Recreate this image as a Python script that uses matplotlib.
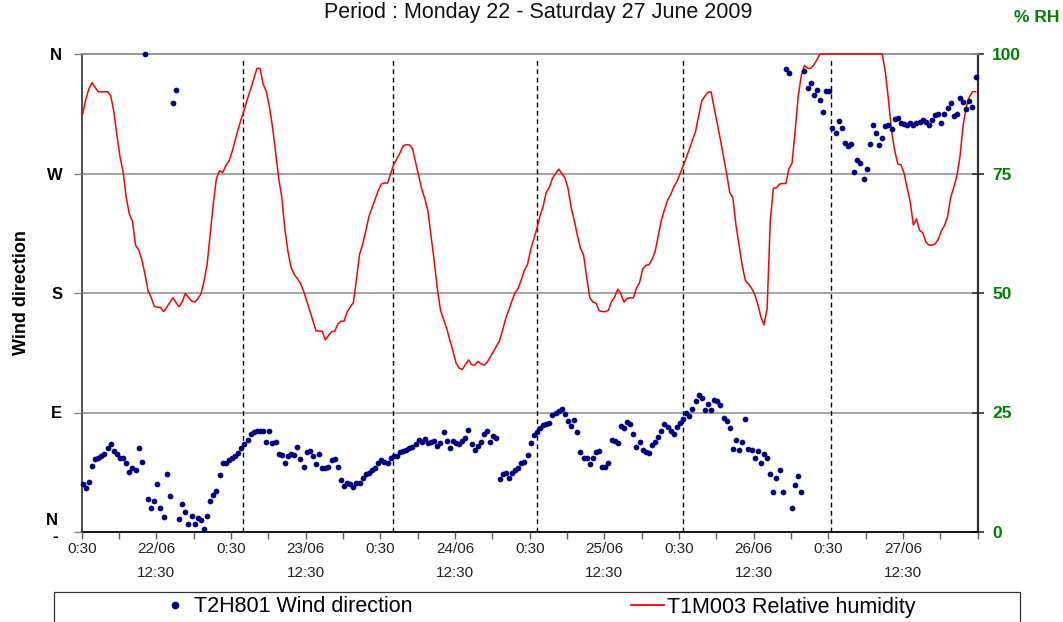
import matplotlib
matplotlib.use("Agg")
import matplotlib.pyplot as plt
from matplotlib.lines import Line2D
from matplotlib.patches import Rectangle
import numpy as np

plt.rcParams['font.family'] = ['Liberation Sans', 'DejaVu Sans']

# ---- data (half-hourly readings, 22/06 0:40 -> 27/06 24:10) ----
wind_dir = [
    36, 33, 38, 50, 55, 55.5, 57, 59, 63.5, 66, 61, 59, 55.5, 56, 52, 45, 48, 47, 63, 53,
    360, 25, 18, 23, 36, 18, 11, 44, 27, 323, 333, 9.5, 21, 15, 6, 12, 6, 10.5, 9, 2,
    12, 23.5, 28, 31, 43, 52, 52, 54, 56, 57.5, 59.5, 63.5, 66, 69, 74, 75, 76, 76, 76, 68,
    76, 67, 67.5, 59, 58, 52, 57.5, 59, 58, 64, 55, 49, 60, 61, 57, 51, 58.5, 48, 48.5, 49,
    54, 55, 49, 39, 35, 37, 36, 34, 37, 37, 41, 44, 44.5, 47, 48, 52, 54, 53, 52, 55.5,
    57, 57, 60, 61, 62, 63, 64, 66, 69, 68, 70, 67, 67.5, 68.5, 65, 67, 75.5, 68.5, 63.5, 68.5,
    67, 66, 68.5, 71, 77, 66, 62, 65, 68, 73.5, 76, 68, 72, 71, 40, 43.5, 44.5, 41, 44.5, 47,
    48.5, 52, 53, 58, 67, 73, 75.5, 78, 80.5, 81, 82, 88, 90, 91, 92.5, 89, 83.5, 80, 84, 75,
    60, 56, 55.5, 51, 56, 60, 61, 49, 49, 52, 69, 68.5, 67, 80, 78.5, 82.5, 81, 73.5, 64, 68,
    62, 60.5, 59.5, 65.5, 67.5, 71.5, 76, 81, 79, 76, 73.5, 79, 82, 85, 90, 87.5, 93, 99, 103, 101,
    92, 96.5, 92, 99.5, 99, 95.5, 86, 83.5, 78, 62.5, 69, 62, 68, 85, 62.5, 62, 55.5, 61, 52, 59,
    56, 44, 30, 41, 46.5, 30, 349, 345.5, 18, 35.5, 42.5, 30, 347, 334.5, 338, 329, 333, 325.5, 316, 332,
    332, 304, 300.5, 309.5, 304, 293, 291, 292, 271, 280.5, 278, 266, 273.5, 292, 306.5, 300.7, 291.5, 296.7, 305.7, 306.5,
    303.7, 311, 311.8, 308, 307, 306.7, 307.7, 306.5, 307.7, 308.5, 310, 309, 306.5, 310, 313.8, 315, 308, 315, 319, 322.8,
    313.5, 315, 327, 324, 318.5, 324.5, 320, 343,
]

rel_humidity = [
    87.5, 90.5, 92.7, 94, 93, 92.1, 92.1, 92.1, 92.1, 91.3, 88, 83, 78.5, 75.3, 70, 66.5, 65, 60, 59, 57,
    54, 50.5, 49.1, 47.2, 47, 47, 46.1, 47, 48, 49, 48, 47.1, 48.2, 49.9, 49.1, 48.3, 48.1, 48.8, 49.8, 52.4,
    56, 62.5, 68.8, 74, 75.6, 75.2, 76.6, 77.6, 79.5, 81.9, 84.3, 86.5, 88.5, 90.7, 92.7, 94.8, 97, 97, 93.7, 92.2,
    89, 84.8, 79.5, 74, 70, 63.3, 58.6, 55.3, 53.9, 53, 52, 50.4, 48.4, 46.3, 44.2, 42.1, 42, 42, 40.2, 41.1,
    41.9, 42, 43.5, 44.1, 44.1, 46, 47.1, 48, 52.8, 58.1, 60.2, 63, 66, 67.8, 69.6, 71.4, 72.8, 73, 73, 75,
    76.9, 78.1, 79.3, 80.8, 81, 81, 80.2, 77.3, 74.5, 71.7, 69.7, 67, 61.8, 56.6, 50.9, 46.4, 44.5, 42.6, 40.2, 37.9,
    35.4, 34.3, 34, 35, 36, 35, 34.9, 35.7, 35.2, 34.9, 35.5, 36.6, 37.7, 38.9, 40, 42.3, 44.7, 46.5, 48.4, 50.1,
    51, 52.8, 54.8, 56, 59.1, 61.3, 63.5, 66.1, 68.1, 71.1, 72.1, 74, 75, 75.9, 75, 74.1, 71.9, 67.9, 65.2, 62.1,
    59.4, 57.9, 53.3, 49, 48.1, 47.9, 46.3, 46.1, 46.1, 46.4, 48.2, 49.2, 50.8, 49.8, 48.1, 48.9, 49, 49, 51, 52.2,
    55, 55.8, 55.9, 57, 58.7, 62, 65.2, 67.4, 69.4, 70.6, 72.2, 73.3, 74.9, 76.6, 78.3, 80.1, 82, 83.8, 87.1, 90.2,
    91.2, 92, 92.1, 88.6, 85.4, 82, 78.5, 74.9, 71, 69.9, 64.1, 59.9, 55.7, 52.6, 51.9, 51, 49.7, 47.6, 45, 43.3,
    46.8, 65, 71.9, 72, 72.8, 72.9, 72.9, 76, 77.2, 83.9, 91.2, 95.6, 97.6, 97, 97, 97.7, 98.8, 100, 100, 100,
    100, 100, 100, 100, 100, 100, 100, 100, 100, 100, 100, 100, 100, 100, 100, 100, 100, 100, 96.2, 90.4,
    83.8, 79.8, 77, 76.8, 75.1, 72, 69.1, 64.2, 65.5, 63.1, 62.6, 60.7, 60, 60, 60.3, 61.2, 63, 64.1, 66, 70,
    72.1, 74.5, 78.6, 85.1, 88.9, 91, 92.1, 92.1,
]

# hours since 22/06 0:30
hours = np.arange(len(wind_dir)) * 0.5 + 0.16

x_tick_labels = ['0:30', '22/06\n12:30', '0:30', '23/06\n12:30', '0:30', '24/06\n12:30',
                 '0:30', '25/06\n12:30', '0:30', '26/06\n12:30', '0:30', '27/06\n12:30']
dir_ticks = [0, 90, 180, 270, 360]
dir_labels = ['', 'E', 'S', 'W', 'N']
rh_ticks = [0, 25, 50, 75, 100]
day_marks = [25.97, 49.98, 73.22, 96.69, 120.48]

# ---- figure ----
W, H = 1063, 622
fig = plt.figure(figsize=(W / 100, H / 100), dpi=100)
L, R, T, B = 81.7, 977.7, 54, 532
ax = fig.add_axes([L / W, 1 - B / H, (R - L) / W, (B - T) / H])
ax2 = ax.twinx()
ax.set_zorder(2)
ax2.set_zorder(1)
ax.patch.set_visible(False)
ax2.patch.set_facecolor('#FFFFCC')

# RH line
ax2.plot(hours, rel_humidity, color='#FF0000', lw=1.1, zorder=3, clip_on=False)
ax2.set_ylim(0, 100)
ax2.set_yticks(rh_ticks)
ax2.set_yticklabels([str(t) for t in rh_ticks])
for yv in rh_ticks[1:-1]:
    ax2.axhline(yv, color='#8C8C8C', lw=1.1, zorder=1)
for d in day_marks:
    ax2.axvline(d, color='black', lw=1.0, ls=(0, (3.5, 2.5)), zorder=2, ymax=0.99)
ax2.tick_params(axis='y', direction='inout', length=9, width=1.2, color='#303030',
                labelcolor='#008000', labelsize=12.5, pad=6)
for lab in ax2.get_yticklabels():
    lab.set_fontweight('bold')

# wind scatter
ax.scatter(hours, wind_dir, s=17, color='#000080', zorder=4, clip_on=False, linewidths=0)
ax.set_ylim(0, 360)
ax.set_xlim(0, 144)
ax.set_yticks(dir_ticks)
ax.set_yticklabels(dir_labels)
ax.tick_params(axis='y', direction='out', length=6, width=1, color='#808080',
               labelsize=12, pad=8)
for lab in ax.get_yticklabels():
    lab.set_fontweight('bold')
tr = ax.get_yaxis_transform()
ax.text(-0.0265, 8.3, 'N', transform=tr, ha='right', va='center', fontsize=12, fontweight='bold')
ax.text(-0.0265, -3.5, '-', transform=tr, ha='right', va='center', fontsize=12, fontweight='bold')

ax.set_xticks(np.arange(0, 144, 12))
ax.set_xticklabels(x_tick_labels, fontsize=11, linespacing=1.95, color='#222222')
ax.set_xticks(np.arange(0, 145, 6), minor=True)
ax.tick_params(axis='x', which='both', direction='out', length=5, width=1, color='#606060', pad=2)

ax.set_ylabel('Wind direction', fontsize=13, fontweight='bold')
ax.yaxis.set_label_coords(-0.058, 0.5)

for s in ax.spines.values():
    s.set_visible(False)
ax2.spines['top'].set_color('#8C8C8C')
ax2.spines['top'].set_linewidth(1.3)
ax2.spines['left'].set_color('#404040')
ax2.spines['left'].set_linewidth(1.3)
ax2.spines['right'].set_color('#303030')
ax2.spines['right'].set_linewidth(1.6)
ax2.spines['bottom'].set_color('#000000')
ax2.spines['bottom'].set_linewidth(1.3)

fig.text(538 / W, 1 - 18 / H, 'Period : Monday 22 - Saturday 27 June 2009',
         ha='center', va='baseline', fontsize=15.5, color='#111111')
fig.text(1037 / W, 1 - 18 / H, '% RH', ha='center', va='center', fontsize=12.5,
         fontweight='bold', color='#008000')

# legend
handles = [Line2D([], [], marker='o', color='#000080', ls='None', markersize=4.5),
           Line2D([], [], color='#FF0000', lw=1.3)]
labels = ['T2H801 Wind direction', 'T1M003 Relative humidity']
fig.legend(handles, labels, loc='center', bbox_to_anchor=(537 / W, 1 - 607 / H),
           ncol=2, frameon=False, fontsize=15.5, handlelength=1.5,
           handletextpad=0.15, columnspacing=10.15)
fig.patches.append(Rectangle((54 / W, -0.05), (1020 - 54) / W, 0.05 + 30 / H,
                             transform=fig.transFigure, fill=False,
                             edgecolor='#333333', lw=0.9))

fig.savefig('out.png', dpi=100)
